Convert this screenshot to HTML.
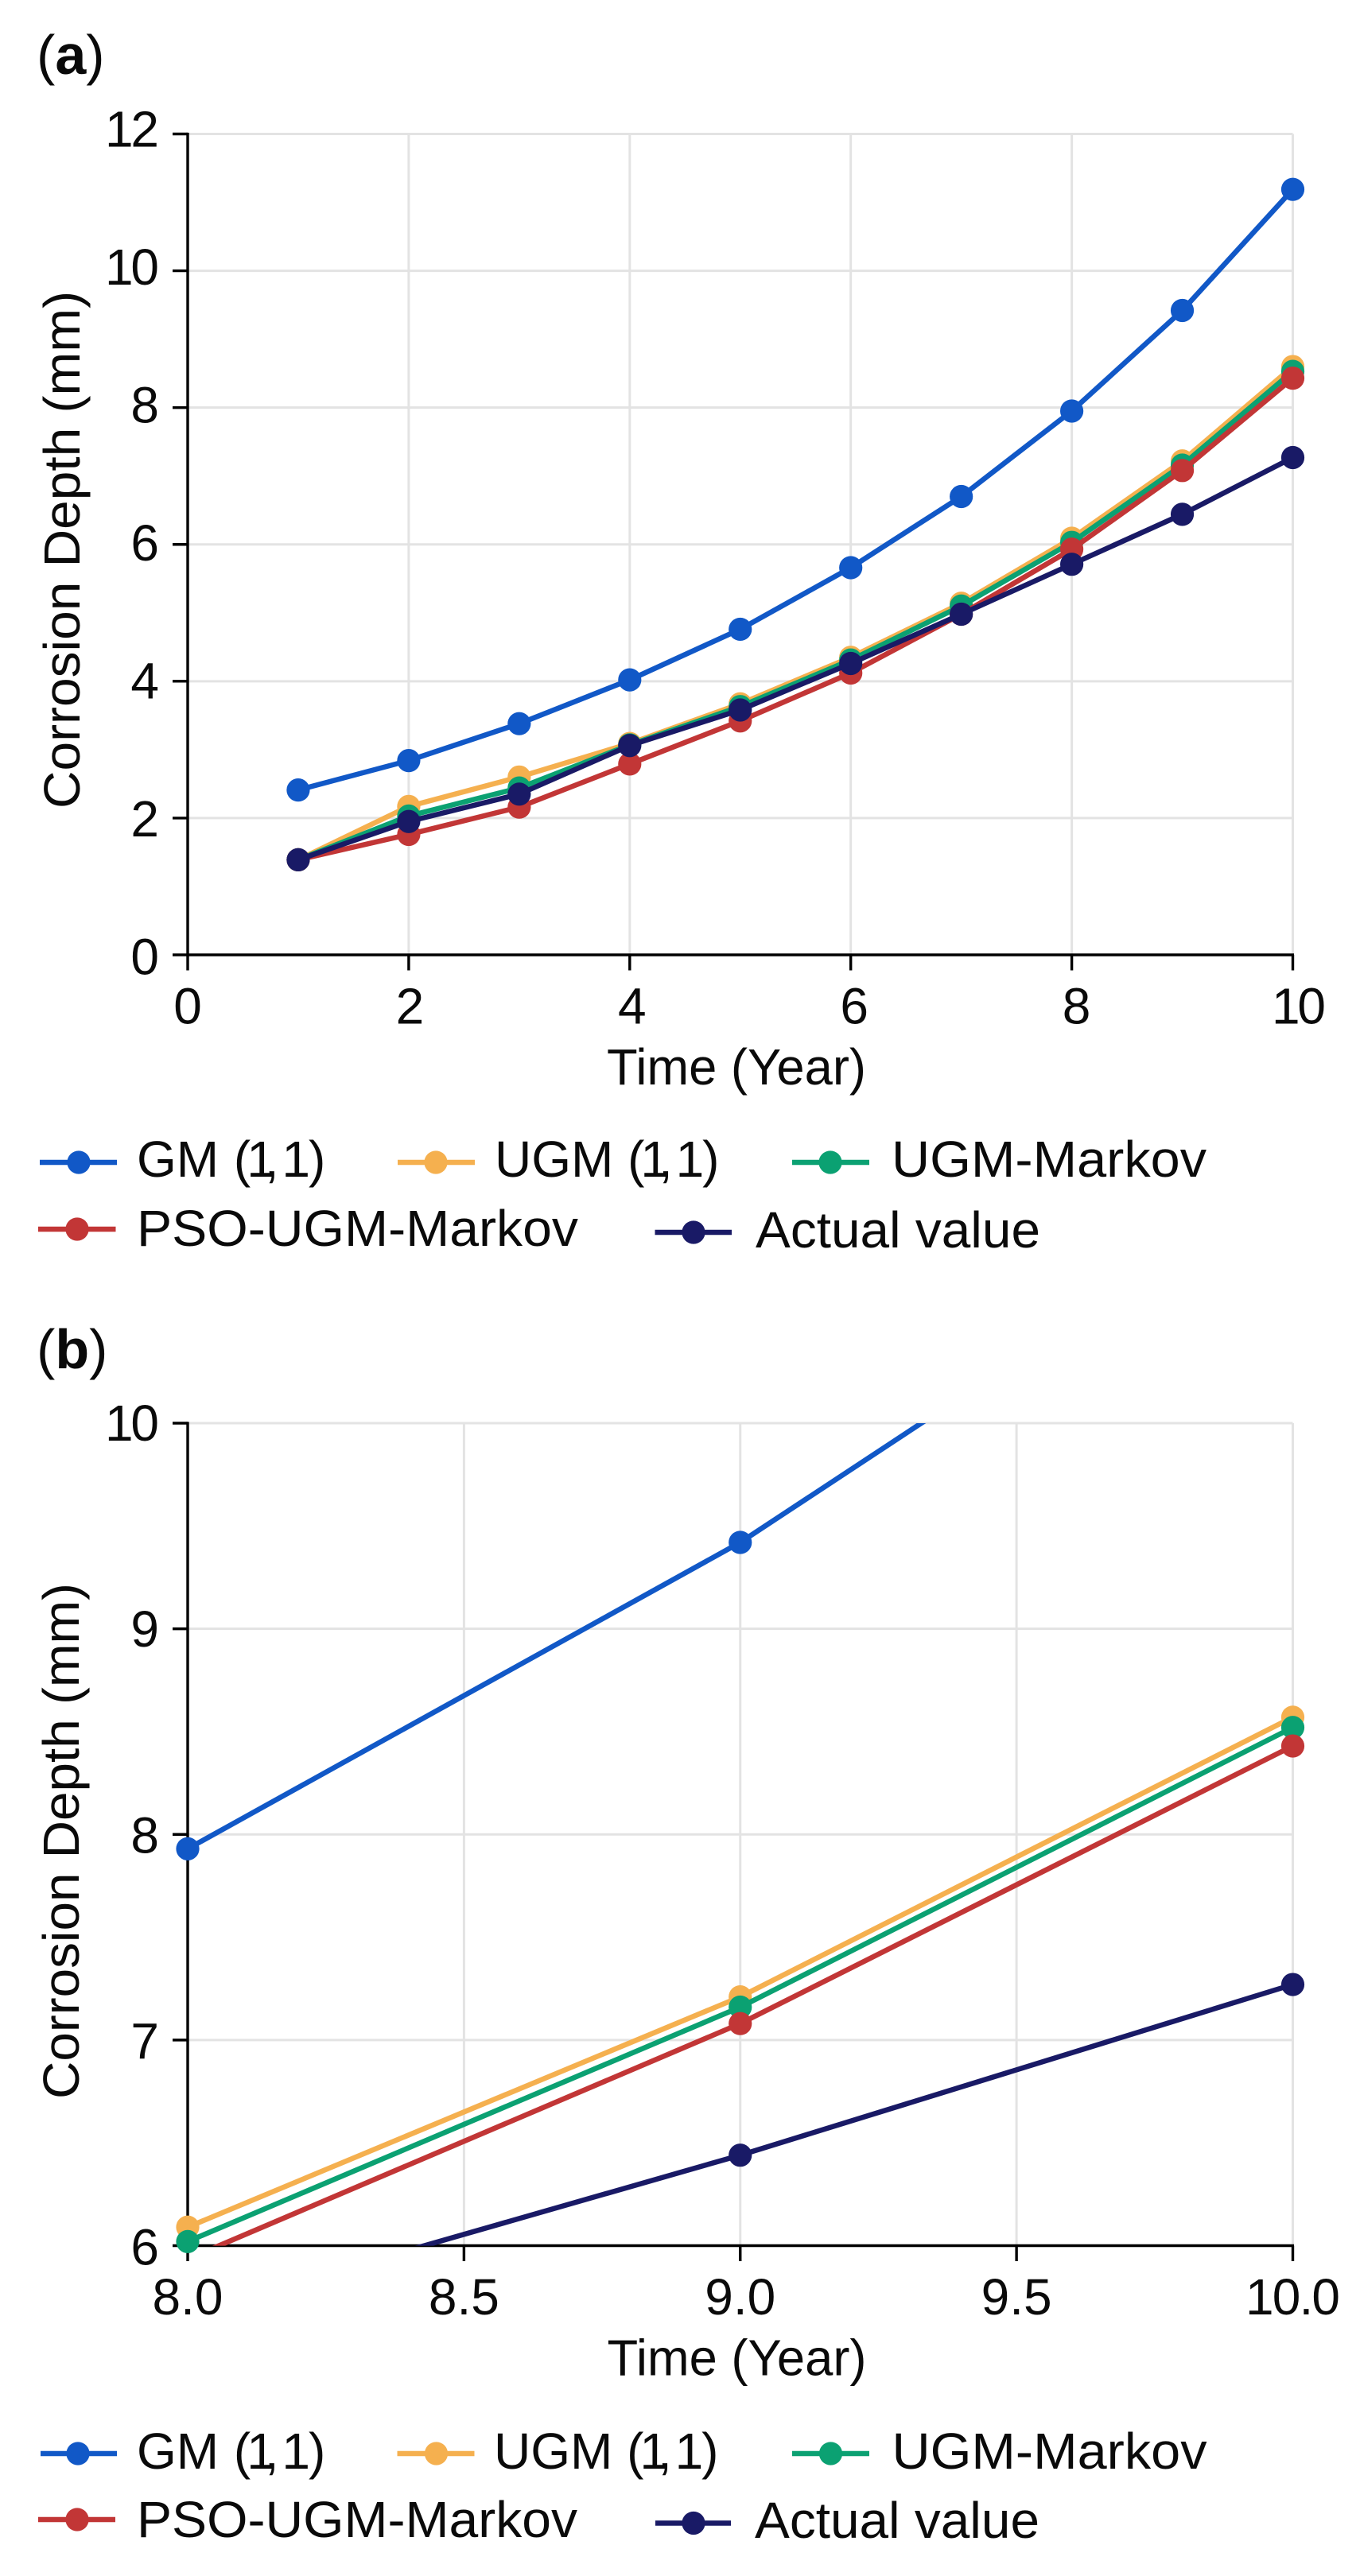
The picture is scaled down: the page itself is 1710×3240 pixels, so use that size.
<!DOCTYPE html>
<html lang="en">
<head>
<meta charset="utf-8">
<title>Corrosion Depth Forecast Comparison</title>
<style>
  html, body { margin: 0; padding: 0; background: #fff; }
  svg { display: block; }
  text { font-family: "Liberation Sans", sans-serif; fill: #0a0a0a; font-size: 64px; }
  .panel-label { font-size: 70px; }
</style>
</head>
<body>
<svg id="figure" xmlns="http://www.w3.org/2000/svg" width="1710" height="3240" viewBox="0 0 1710 3240">
  <defs>
    <clipPath id="clip-a"><rect x="236" y="168" width="1390" height="1033"/></clipPath>
    <clipPath id="clip-b"><rect x="236" y="1790" width="1390" height="1034.6"/></clipPath>
  </defs>
  <rect width="1710" height="3240" fill="#fff"/>

  <text class="panel-label" x="46" y="93"><tspan>(</tspan><tspan font-weight="bold">a</tspan><tspan>)</tspan></text>
  <g id="panel-a"></g>
  <text transform="translate(100 1017) rotate(-90)" textLength="651" lengthAdjust="spacingAndGlyphs">Corrosion Depth (mm)</text>
  <text x="763" y="1364" textLength="326" lengthAdjust="spacingAndGlyphs">Time (Year)</text>

  <g>
    <g>
      <line x1="50" x2="147" y1="1462" y2="1462" stroke="#1158c7" stroke-width="6.5"/><circle cx="99" cy="1462" r="14.6" fill="#1158c7"/>
      <text x="172" y="1480" dx="0 0 1 0 -5 -13 0 -14 -2">GM (1, 1)</text>
    </g>
    <g>
      <line x1="500" x2="597" y1="1462" y2="1462" stroke="#f5b04f" stroke-width="6.5"/><circle cx="548" cy="1462" r="14.6" fill="#f5b04f"/>
      <text x="622" y="1480" dx="0 0 0 0 0 -5 -13 0 -14 -2">UGM (1, 1)</text>
    </g>
    <g>
      <line x1="996" x2="1093" y1="1462" y2="1462" stroke="#0ba172" stroke-width="6.5"/><circle cx="1044" cy="1462" r="14.6" fill="#0ba172"/>
      <text x="1121" y="1480" textLength="396" lengthAdjust="spacingAndGlyphs">UGM-Markov</text>
    </g>
    <g>
      <line x1="48" x2="145.5" y1="1546" y2="1546" stroke="#c23636" stroke-width="6.5"/><circle cx="97" cy="1546" r="14.6" fill="#c23636"/>
      <text x="172" y="1567" textLength="555" lengthAdjust="spacingAndGlyphs">PSO-UGM-Markov</text>
    </g>
    <g>
      <line x1="823.5" x2="920" y1="1550" y2="1550" stroke="#191a66" stroke-width="6.5"/><circle cx="872" cy="1550" r="14.6" fill="#191a66"/>
      <text x="950" y="1569" textLength="358" lengthAdjust="spacingAndGlyphs">Actual value</text>
    </g>
  </g>

  <text class="panel-label" x="46" y="1721"><tspan>(</tspan><tspan font-weight="bold">b</tspan><tspan>)</tspan></text>
  <g id="panel-b"></g>
  <text transform="translate(99 2640) rotate(-90)" textLength="649" lengthAdjust="spacingAndGlyphs">Corrosion Depth (mm)</text>
  <text x="763.5" y="2987.5" textLength="326" lengthAdjust="spacingAndGlyphs">Time (Year)</text>

  <g>
    <g>
      <line x1="51" x2="147" y1="3086" y2="3086" stroke="#1158c7" stroke-width="6.5"/><circle cx="98" cy="3086" r="14.6" fill="#1158c7"/>
      <text x="172" y="3105" dx="0 0 1 0 -5 -13 0 -14 -2">GM (1, 1)</text>
    </g>
    <g>
      <line x1="499.5" x2="596.5" y1="3086" y2="3086" stroke="#f5b04f" stroke-width="6.5"/><circle cx="548.5" cy="3086" r="14.6" fill="#f5b04f"/>
      <text x="621" y="3105" dx="0 0 0 0 0 -5 -13 0 -14 -2">UGM (1, 1)</text>
    </g>
    <g>
      <line x1="996" x2="1093" y1="3086" y2="3086" stroke="#0ba172" stroke-width="6.5"/><circle cx="1044.5" cy="3086" r="14.6" fill="#0ba172"/>
      <text x="1121.5" y="3105" textLength="396" lengthAdjust="spacingAndGlyphs">UGM-Markov</text>
    </g>
    <g>
      <line x1="48" x2="145" y1="3169" y2="3169" stroke="#c23636" stroke-width="6.5"/><circle cx="97" cy="3169" r="14.6" fill="#c23636"/>
      <text x="172" y="3191" textLength="554" lengthAdjust="spacingAndGlyphs">PSO-UGM-Markov</text>
    </g>
    <g>
      <line x1="824" x2="919" y1="3173.5" y2="3173.5" stroke="#191a66" stroke-width="6.5"/><circle cx="872" cy="3173.5" r="14.6" fill="#191a66"/>
      <text x="949" y="3192" textLength="358" lengthAdjust="spacingAndGlyphs">Actual value</text>
    </g>
  </g>
</svg>

<script>
// Panel (a) data
const yearsA = [1, 2, 3, 4, 5, 6, 7, 8, 9, 10];
const gmA = [2.41, 2.84, 3.38, 4.02, 4.76, 5.66, 6.70, 7.95, 9.42, 11.19];
const ugmA = [1.39, 2.17, 2.60, 3.09, 3.67, 4.35, 5.14, 6.09, 7.22, 8.60];
const markovA = [1.39, 2.03, 2.44, 3.07, 3.63, 4.31, 5.10, 6.03, 7.16, 8.53];
const psoA = [1.39, 1.76, 2.16, 2.79, 3.42, 4.12, 4.98, 5.93, 7.08, 8.43];
const actualA = [1.39, 1.95, 2.35, 3.06, 3.58, 4.26, 4.98, 5.71, 6.44, 7.27];
const xTicksA = [0, 2, 4, 6, 8, 10];
const yTicksA = [0, 2, 4, 6, 8, 10, 12];

// Panel (b) data
const yearsB = [8, 9, 10];
const gmB = [7.93, 9.42, 11.19];
const ugmB = [6.09, 7.21, 8.57];
const markovB = [6.02, 7.16, 8.52];
const psoB = [5.935, 7.08, 8.43];
const actualB = [5.67, 6.44, 7.27];
const xTicksB = [8, 8.5, 9, 9.5, 10];
const yTicksB = [6, 7, 8, 9, 10];

const SVG_NS = 'http://www.w3.org/2000/svg';

function seriesListFor(gm, ugm, markov, pso, actual) {
  return [
    { key: 'gm', color: '#1158c7', values: gm },
    { key: 'ugm', color: '#f5b04f', values: ugm },
    { key: 'ugm-markov', color: '#0ba172', values: markov },
    { key: 'pso-ugm-markov', color: '#c23636', values: pso },
    { key: 'actual', color: '#191a66', values: actual }
  ];
}

function linearScale(d0, d1, r0, r1) {
  return function (v) { return r0 + (v - d0) * (r1 - r0) / (d1 - d0); };
}

function addLine(parent, name, x1, y1, x2, y2, color, width) {
  const el = document.createElementNS(SVG_NS, 'line');
  
  
  el.setAttribute('x1', x1);
  el.setAttribute('y1', y1);
  el.setAttribute('x2', x2);
  el.setAttribute('y2', y2);
  el.setAttribute('stroke', color);
  el.setAttribute('stroke-width', width);
  parent.appendChild(el);
  return el;
}

function addLabel(parent, name, content, x, y, anchor) {
  const el = document.createElementNS(SVG_NS, 'text');
  
  
  el.setAttribute('x', x);
  el.setAttribute('y', y);
  el.setAttribute('text-anchor', anchor);
  if (content[0] === '1') {
    el.setAttribute('textLength', content.length > 3 ? 119 : 68);
    el.setAttribute('lengthAdjust', 'spacing');
  }
  el.textContent = content;
  parent.appendChild(el);
  return el;
}

function drawPanel(cfg) {
  const root = document.getElementById(cfg.id);
  const x = linearScale(cfg.xMin, cfg.xMax, 236, 1625.5);
  const y = linearScale(cfg.yMin, cfg.yMax, cfg.bottom, cfg.top);
  const GRID = '#e3e3e3';

  // Gridlines
  cfg.yTicks.forEach(function (v) {
    if (v !== cfg.yMin) addLine(root, 'grid-line-horizontal', 236, y(v), 1625.5, y(v), GRID, 3);
  });
  cfg.xTicks.forEach(function (v) {
    if (v !== cfg.xMin) addLine(root, 'grid-line-vertical', x(v), cfg.top, x(v), cfg.bottom, GRID, 3);
  });

  // Axes
  addLine(root, 'y-axis-line', 236, cfg.top - 1.6, 236, cfg.bottom + 1.6, '#000', 3.4);
  addLine(root, 'x-axis-line', 234.4, cfg.bottom, 1627, cfg.bottom, '#000', 3.4);

  // Ticks and tick labels
  cfg.yTicks.forEach(function (v) {
    addLine(root, 'y-tick', 217, y(v), 236, y(v), '#000', 3.4);
    const frac = (cfg.yMax - v) / (cfg.yMax - cfg.yMin);
    addLabel(root, 'y-tick-label', String(v), 200, y(v) + cfg.yLabelTop + frac * cfg.yLabelDrift, 'end');
  });
  cfg.xTicks.forEach(function (v) {
    addLine(root, 'x-tick', x(v), cfg.bottom, x(v), cfg.bottom + 19.5, '#000', 3.4);
    const txt = cfg.decimals ? v.toFixed(cfg.decimals) : String(v);
    addLabel(root, 'x-tick-label', txt, x(v) + cfg.xLabelSkew * v, cfg.xLabelBase, 'middle');
  });

  // Series
  cfg.series.forEach(function (s) {
    const group = document.createElementNS(SVG_NS, 'g');
    
    
    root.appendChild(group);

    const path = document.createElementNS(SVG_NS, 'polyline');
    
    
    path.setAttribute('points', s.values.map(function (v, i) { return x(cfg.years[i]) + ',' + y(v); }).join(' '));
    path.setAttribute('fill', 'none');
    path.setAttribute('stroke', s.color);
    path.setAttribute('stroke-width', '6.5');
    path.setAttribute('stroke-linejoin', 'round');
    path.setAttribute('clip-path', 'url(#' + cfg.clip + ')');
    group.appendChild(path);

    s.values.forEach(function (v, i) {
      if (v < cfg.yMin || v > cfg.yMax) return;
      const dot = document.createElementNS(SVG_NS, 'circle');
      
      
      dot.setAttribute('cx', x(cfg.years[i]));
      dot.setAttribute('cy', y(v));
      dot.setAttribute('r', '14.6');
      dot.setAttribute('fill', s.color);
      group.appendChild(dot);
    });
  });
}

drawPanel({
  id: 'panel-a', clip: 'clip-a',
  xMin: 0, xMax: 10, yMin: 0, yMax: 12,
  top: 168.5, bottom: 1201,
  years: yearsA, xTicks: xTicksA, yTicks: yTicksA,
  series: seriesListFor(gmA, ugmA, markovA, psoA, actualA),
  yLabelTop: 16, yLabelDrift: 8.5, xLabelBase: 1287.5, xLabelSkew: 0.75, decimals: 0
});

drawPanel({
  id: 'panel-b', clip: 'clip-b',
  xMin: 8, xMax: 10, yMin: 6, yMax: 10,
  top: 1790, bottom: 2824.5,
  years: yearsB, xTicks: xTicksB, yTicks: yTicksB,
  series: seriesListFor(gmB, ugmB, markovB, psoB, actualB),
  yLabelTop: 22, yLabelDrift: 2, xLabelBase: 2911, xLabelSkew: 0, decimals: 1
});
</script>
</body>
</html>
